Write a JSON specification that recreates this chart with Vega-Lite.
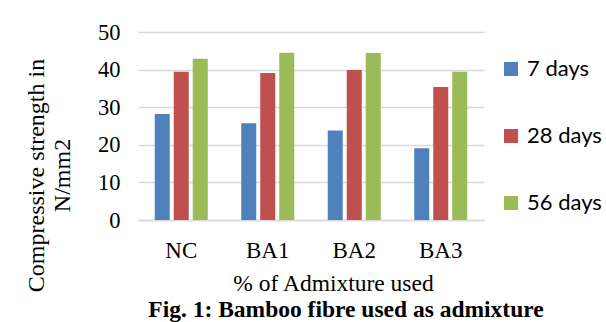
{
  "$schema": "https://vega.github.io/schema/vega-lite/v6.json",
  "autosize": "none",
  "padding": {"left": 138, "top": 32, "right": 122, "bottom": 102},
  "width": 346,
  "height": 188,
  "background": "white",
  "title": {
    "text": "Fig. 1: Bamboo fibre used as admixture",
    "orient": "bottom",
    "anchor": "middle",
    "font": "Liberation Serif",
    "fontSize": 23.5,
    "fontWeight": "bold",
    "color": "black",
    "offset": 3,
    "dx": 35
  },
  "data": {
    "values": [
      {"mix": "NC", "age": "7 days", "strength": 28.2},
      {"mix": "NC", "age": "28 days", "strength": 39.4},
      {"mix": "NC", "age": "56 days", "strength": 42.9},
      {"mix": "BA1", "age": "7 days", "strength": 25.7},
      {"mix": "BA1", "age": "28 days", "strength": 39.1},
      {"mix": "BA1", "age": "56 days", "strength": 44.5},
      {"mix": "BA2", "age": "7 days", "strength": 23.8},
      {"mix": "BA2", "age": "28 days", "strength": 39.9},
      {"mix": "BA2", "age": "56 days", "strength": 44.4},
      {"mix": "BA3", "age": "7 days", "strength": 19.1},
      {"mix": "BA3", "age": "28 days", "strength": 35.4},
      {"mix": "BA3", "age": "56 days", "strength": 39.4}
    ]
  },
  "mark": {"type": "bar"},
  "encoding": {
    "x": {
      "field": "mix",
      "type": "nominal",
      "sort": ["NC", "BA1", "BA2", "BA3"],
      "scale": {"paddingInner": 0.387, "paddingOuter": 0.1935},
      "axis": {
        "title": "% of Admixture used",
        "labelAngle": 0,
        "labelFont": "Liberation Serif",
        "labelFontSize": 23,
        "labelColor": "black",
        "labelPadding": 19,
        "ticks": false,
        "domainColor": "#D9D9D9",
        "domainWidth": 1.5,
        "titleFont": "Liberation Serif",
        "titleFontSize": 23.5,
        "titleFontWeight": "normal",
        "titleColor": "black",
        "titlePadding": 9,
        "titleX": 195
      }
    },
    "xOffset": {
      "field": "age",
      "type": "nominal",
      "sort": ["7 days", "28 days", "56 days"],
      "scale": {"paddingInner": 0.21, "paddingOuter": 0}
    },
    "y": {
      "field": "strength",
      "type": "quantitative",
      "scale": {"domain": [0, 50]},
      "axis": {
        "title": ["Compressive strength in", "N/mm2"],
        "values": [0, 10, 20, 30, 40, 50],
        "labelFont": "Liberation Serif",
        "labelFontSize": 22.5,
        "labelColor": "black",
        "labelPadding": 18,
        "ticks": false,
        "domain": false,
        "gridColor": "#D9D9D9",
        "gridWidth": 1.5,
        "titleFont": "Liberation Serif",
        "titleFontSize": 24,
        "titleFontWeight": "normal",
        "titleColor": "black",
        "titleLineHeight": 26,
        "titleX": -114,
        "titleY": 143,
        "titleAlign": "center",
        "titleBaseline": "top"
      }
    },
    "color": {
      "field": "age",
      "type": "nominal",
      "sort": ["7 days", "28 days", "56 days"],
      "scale": {"range": ["#4F81BD", "#C0504D", "#9BBB59"]},
      "legend": {
        "title": null,
        "orient": "none",
        "legendX": 362,
        "legendY": 26,
        "symbolType": "square",
        "symbolSize": 196,
        "symbolStrokeWidth": 0,
        "labelFont": "Lato",
        "labelFontSize": 22,
        "labelColor": "black",
        "labelOffset": 5,
        "rowPadding": 45
      }
    }
  },
  "config": {
    "view": {"stroke": null}
  }
}
